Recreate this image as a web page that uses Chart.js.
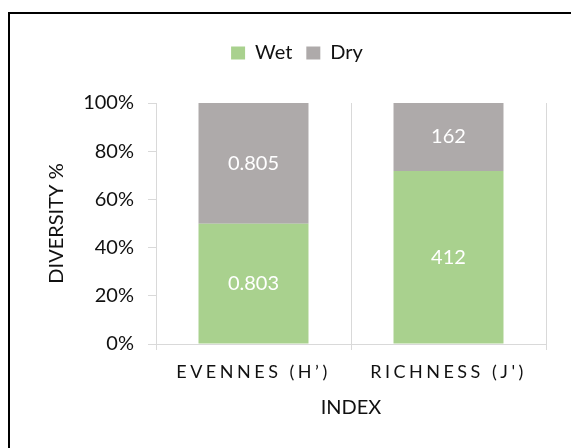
<!DOCTYPE html>
<html>
<head>
<meta charset="utf-8">
<script src="https://cdn.jsdelivr.net/npm/chart.js@4.4.1/dist/chart.umd.min.js"></script>
<style>
  html, body { margin: 0; padding: 0; background: #fff; overflow: hidden; }
  #wrap { position: relative; width: 571px; height: 448px; }
  #frame {
    position: absolute; left: 8px; top: 12px; width: 700px; height: 600px;
    border-left: 2px solid #000; border-top: 2px solid #000;
  }
  #chart { position: absolute; left: 0; top: 0; }
</style>
</head>
<body>
<div id="wrap">
  <div id="frame"></div>
  <canvas id="chart" width="571" height="448"></canvas>
</div>
<script>
// Diversity indices, wet vs dry season
const categories = ["EVENNES (H\u2019)", "RICHNESS (J')"];
const wetValues = [0.803, 412];
const dryValues = [0.805, 162];
const yTicks = [0, 20, 40, 60, 80, 100];

// share of each season within an index, in percent
const wetShare = wetValues.map((v, i) => v / (v + dryValues[i]) * 100);
const dryShare = dryValues.map((v, i) => v / (wetValues[i] + v) * 100);

const FONT = "Lato";
const TEXT = "#111";
const GRID = "#d9d9d9";

// prints the raw value in the middle of each bar segment
const segmentLabels = {
    id: "segmentLabels",
    afterDatasetsDraw(chart) {
        const ctx = chart.ctx;
        ctx.save();
        ctx.font = "20px " + FONT;
        ctx.fillStyle = "#fff";
        ctx.textAlign = "center";
        ctx.textBaseline = "middle";
        chart.data.datasets.forEach((ds, d) => {
            chart.getDatasetMeta(d).data.forEach((bar, i) => {
                const { x, y, base } = bar.getProps(["x", "y", "base"], true);
                ctx.fillText(String(ds.raw[i]), x, (y + base) / 2);
            });
        });
        ctx.restore();
    }
};

// fixed legend height/offset and spaced-out category labels
const layoutTweaks = {
    id: "layoutTweaks",
    beforeInit(chart) {
        const fit = chart.legend.fit;
        chart.legend.fit = function () {
            fit.call(this);
            this.height = 74;
        };
    },
    afterLayout(chart) {
        // legend sits centred over the plot, a bit right of the canvas middle
        chart.legend.left += 24;
        chart.legend.right += 24;
    },
    afterUpdate(chart) {
        const x = chart.scales.x;
        if (x && !x._spaced) {
            const draw = x.drawLabels;
            x.drawLabels = function (area) {
                this.ctx.save();
                this.ctx.letterSpacing = "3.5px";
                draw.call(this, area);
                this.ctx.restore();
            };
            x._spaced = true;
        }
    }
};

new Chart(document.getElementById("chart"), {
    type: "bar",
    data: {
        labels: categories,
        datasets: [
            {
                label: "Wet",
                backgroundColor: "#A9D18E",
                data: wetShare,
                raw: wetValues
            },
            {
                label: "Dry",
                backgroundColor: "#AEAAAA",
                data: dryShare,
                raw: dryValues
            }
        ]
    },
    options: {
        responsive: false,
        animation: false,
        layout: { padding: { top: 29, right: 25, bottom: 0, left: 0 } },
        datasets: {
            bar: { categoryPercentage: 1, barPercentage: 0.564 }
        },
        scales: {
            x: {
                stacked: true,
                afterFit: (s) => { s.height = 104; },
                grid: { color: GRID, offset: true, tickLength: 6 },
                border: { color: GRID },
                ticks: { color: TEXT, font: { family: FONT, size: 18 }, padding: 11 },
                title: {
                    display: true, text: "INDEX", color: TEXT,
                    font: { family: FONT, size: 20 }, padding: { bottom: 28 }
                }
            },
            y: {
                stacked: true,
                min: 0,
                max: 100,
                afterFit: (s) => { s.width = 156; },
                afterBuildTicks: (s) => { s.ticks = yTicks.map((v) => ({ value: v })); },
                grid: { color: GRID, drawOnChartArea: false, tickLength: 8 },
                border: { color: GRID },
                ticks: {
                    color: TEXT, font: { family: FONT, size: 20 }, padding: 14,
                    callback: (v) => v + "%"
                },
                title: {
                    display: true, text: "DIVERSITY %", color: TEXT,
                    font: { family: FONT, size: 20 }, padding: { top: 45 }
                }
            }
        },
        plugins: {
            legend: {
                position: "top",
                labels: {
                    color: TEXT, font: { family: FONT, size: 20 },
                    boxWidth: 14, boxHeight: 13, padding: 14
                }
            },
            tooltip: { enabled: false }
        }
    },
    plugins: [segmentLabels, layoutTweaks]
});
</script>
</body>
</html>
